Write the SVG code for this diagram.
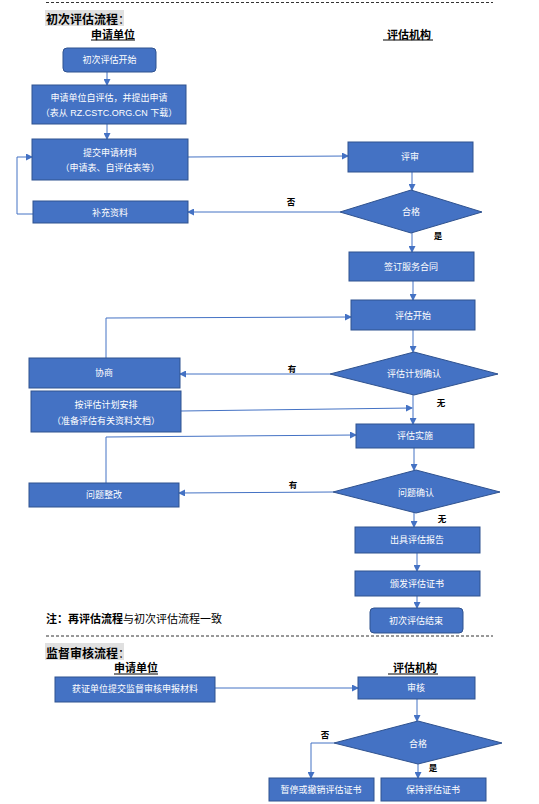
<svg xmlns="http://www.w3.org/2000/svg" width="539" height="804" viewBox="0 0 539 804">
<defs>
<marker id="ah" markerWidth="7" markerHeight="7" refX="6" refY="3.5" orient="auto" markerUnits="userSpaceOnUse">
<path d="M0,0 L7,3.5 L0,7 Z" fill="#4472C4"/>
</marker>
<style>
.box{fill:#4472C4;stroke:#2F528F;stroke-width:1}
.bt{fill:#fff;font-family:"Liberation Sans","Noto Sans CJK SC",sans-serif;font-size:9px;text-anchor:middle;dominant-baseline:central}
.ln{fill:none;stroke:#4472C4;stroke-width:1}
.lb{fill:#000;font-family:"Noto Sans CJK SC",sans-serif;font-size:8.5px;font-weight:bold;text-anchor:middle;dominant-baseline:central}
.hd{fill:#000;font-family:"Noto Sans CJK SC",sans-serif;font-size:11px;font-weight:bold;text-anchor:middle;dominant-baseline:central}
.ttl{fill:#000;font-family:"Noto Sans CJK SC",sans-serif;font-size:12px;font-weight:bold;dominant-baseline:central}
.dash{stroke:#333;stroke-width:1;stroke-dasharray:3,2}
</style>
</defs>
<rect width="539" height="804" fill="#fff"/>
<line class="dash" x1="46" y1="2.5" x2="493" y2="2.5"/>
<line class="dash" x1="46" y1="636" x2="493" y2="636"/>
<rect x="45" y="10" width="79" height="16" fill="#E0E0E0"/>
<text class="ttl" x="46" y="18">初次评估流程<tspan font-weight="normal">：</tspan></text>
<text class="hd" x="113" y="34">申请单位</text>
<line x1="91" y1="40" x2="135" y2="40" stroke="#000" stroke-width="1"/>
<text class="hd" x="409" y="34">评估机构</text>
<line x1="383" y1="40" x2="433" y2="40" stroke="#000" stroke-width="1"/>
<text x="46" y="618" font-family="Noto Sans CJK SC, sans-serif" font-size="11" dominant-baseline="central" fill="#000"><tspan font-weight="bold">注：再评估流程</tspan>与初次评估流程一致</text>
<rect x="45" y="643" width="79" height="17" fill="#E0E0E0"/>
<text class="ttl" x="46" y="652">监督审核流程<tspan font-weight="normal">：</tspan></text>
<text class="hd" x="136" y="667">申请单位</text>
<line x1="114" y1="674" x2="158" y2="674" stroke="#000" stroke-width="1"/>
<text class="hd" x="415" y="667">评估机构</text>
<line x1="388" y1="674" x2="438" y2="674" stroke="#000" stroke-width="1"/>

<g id="connectors">
<line class="ln" x1="107" y1="72" x2="107" y2="85" marker-end="url(#ah)"/>
<line class="ln" x1="107" y1="124" x2="107" y2="139" marker-end="url(#ah)"/>
<line class="ln" x1="188" y1="157" x2="348" y2="156" marker-end="url(#ah)"/>
<line class="ln" x1="412" y1="172" x2="412" y2="190" marker-end="url(#ah)"/>
<line class="ln" x1="340" y1="212" x2="188" y2="212" marker-end="url(#ah)"/>
<polyline class="ln" points="33,214 17,214 17,157 32,157" marker-end="url(#ah)"/>
<line class="ln" x1="412" y1="233" x2="412" y2="252" marker-end="url(#ah)"/>
<line class="ln" x1="413" y1="281" x2="413" y2="300" marker-end="url(#ah)"/>
<polyline class="ln" points="106,358 106,318 351,317" marker-end="url(#ah)"/>
<line class="ln" x1="413" y1="330" x2="413" y2="352" marker-end="url(#ah)"/>
<line class="ln" x1="330" y1="374" x2="180" y2="374" marker-end="url(#ah)"/>
<line class="ln" x1="181" y1="411" x2="412" y2="408" marker-end="url(#ah)"/>
<line class="ln" x1="413" y1="395" x2="413" y2="424" marker-end="url(#ah)"/>
<polyline class="ln" points="106,483 106,437 356,435" marker-end="url(#ah)"/>
<line class="ln" x1="414" y1="448" x2="414" y2="470" marker-end="url(#ah)"/>
<line class="ln" x1="333" y1="492" x2="179" y2="493" marker-end="url(#ah)"/>
<line class="ln" x1="414" y1="513" x2="414" y2="527" marker-end="url(#ah)"/>
<line class="ln" x1="417" y1="553" x2="417" y2="571" marker-end="url(#ah)"/>
<line class="ln" x1="417" y1="596" x2="417" y2="608" marker-end="url(#ah)"/>
<line class="ln" x1="215" y1="688" x2="358" y2="688" marker-end="url(#ah)"/>
<line class="ln" x1="417" y1="699" x2="417" y2="721" marker-end="url(#ah)"/>
<polyline class="ln" points="334,743 311,743 311,778" marker-end="url(#ah)"/>
<line class="ln" x1="418" y1="764" x2="418" y2="778" marker-end="url(#ah)"/>
<text class="lb" x="291" y="201">否</text>
<text class="lb" x="438" y="235">是</text>
<text class="lb" x="292" y="368">有</text>
<text class="lb" x="441" y="402">无</text>
<text class="lb" x="293" y="484">有</text>
<text class="lb" x="442" y="518">无</text>
<text class="lb" x="325" y="734">否</text>
<text class="lb" x="433" y="767">是</text>
</g>

<g id="n1"><rect class="box" x="63" y="48" width="93" height="24" rx="4"/><text class="bt" x="109.5" y="60" font-size="8.5">初次评估开始</text></g>
<g id="n2"><rect class="box" x="32" y="85" width="154" height="39"/><text class="bt" x="109" y="98">申请单位自评估，并提出申请</text><text class="bt" x="109" y="113">（表从 RZ.CSTC.ORG.CN 下载）</text></g>
<g id="n3"><rect class="box" x="32" y="139" width="156" height="41"/><text class="bt" x="110" y="153">提交申请材料</text><text class="bt" x="110" y="168">（申请表、自评估表等）</text></g>
<g id="n4"><rect class="box" x="33" y="201" width="155" height="22"/><text class="bt" x="110" y="213">补充资料</text></g>
<g id="n5"><rect class="box" x="348" y="142" width="125" height="30"/><text class="bt" x="410" y="157">评审</text></g>
<g id="n6"><polygon class="box" points="411,190 482,212 411,233 340,212"/><text class="bt" x="411" y="212">合格</text></g>
<g id="n7"><rect class="box" x="349" y="252" width="125" height="29"/><text class="bt" x="411" y="267">签订服务合同</text></g>
<g id="n8"><rect class="box" x="351" y="300" width="124" height="30"/><text class="bt" x="413" y="316">评估开始</text></g>
<g id="n9"><polygon class="box" points="414,352 498,374 414,395 330,374"/><text class="bt" x="414" y="374">评估计划确认</text></g>
<g id="n10"><rect class="box" x="29" y="358" width="151" height="30"/><text class="bt" x="104" y="373">协商</text></g>
<g id="n11"><rect class="box" x="31" y="391" width="150" height="41"/><text class="bt" x="106" y="405">按评估计划安排</text><text class="bt" x="106" y="421">（准备评估有关资料文档）</text></g>
<g id="n12"><rect class="box" x="356" y="424" width="118" height="24"/><text class="bt" x="415" y="436">评估实施</text></g>
<g id="n13"><polygon class="box" points="416,470 500,492 416,513 333,492"/><text class="bt" x="416" y="493">问题确认</text></g>
<g id="n14"><rect class="box" x="29" y="483" width="150" height="24"/><text class="bt" x="104" y="495">问题整改</text></g>
<g id="n15"><rect class="box" x="355" y="527" width="125" height="26"/><text class="bt" x="417" y="540">出具评估报告</text></g>
<g id="n16"><rect class="box" x="355" y="571" width="125" height="25"/><text class="bt" x="417" y="584">颁发评估证书</text></g>
<g id="n17"><rect class="box" x="370" y="608" width="93" height="25" rx="4"/><text class="bt" x="416" y="621">初次评估结束</text></g>
<g id="n18"><rect class="box" x="55" y="677" width="160" height="25"/><text class="bt" x="135" y="689">获证单位提交监督审核申报材料</text></g>
<g id="n19"><rect class="box" x="358" y="677" width="117" height="22"/><text class="bt" x="416" y="688">审核</text></g>
<g id="n20"><polygon class="box" points="418,721 502,743 418,764 334,743"/><text class="bt" x="418" y="744">合格</text></g>
<g id="n21"><rect class="box" x="269" y="778" width="105" height="23"/><text class="bt" x="321" y="790">暂停或撤销评估证书</text></g>
<g id="n22"><rect class="box" x="381" y="778" width="105" height="23"/><text class="bt" x="433" y="790">保持评估证书</text></g>
</svg>
